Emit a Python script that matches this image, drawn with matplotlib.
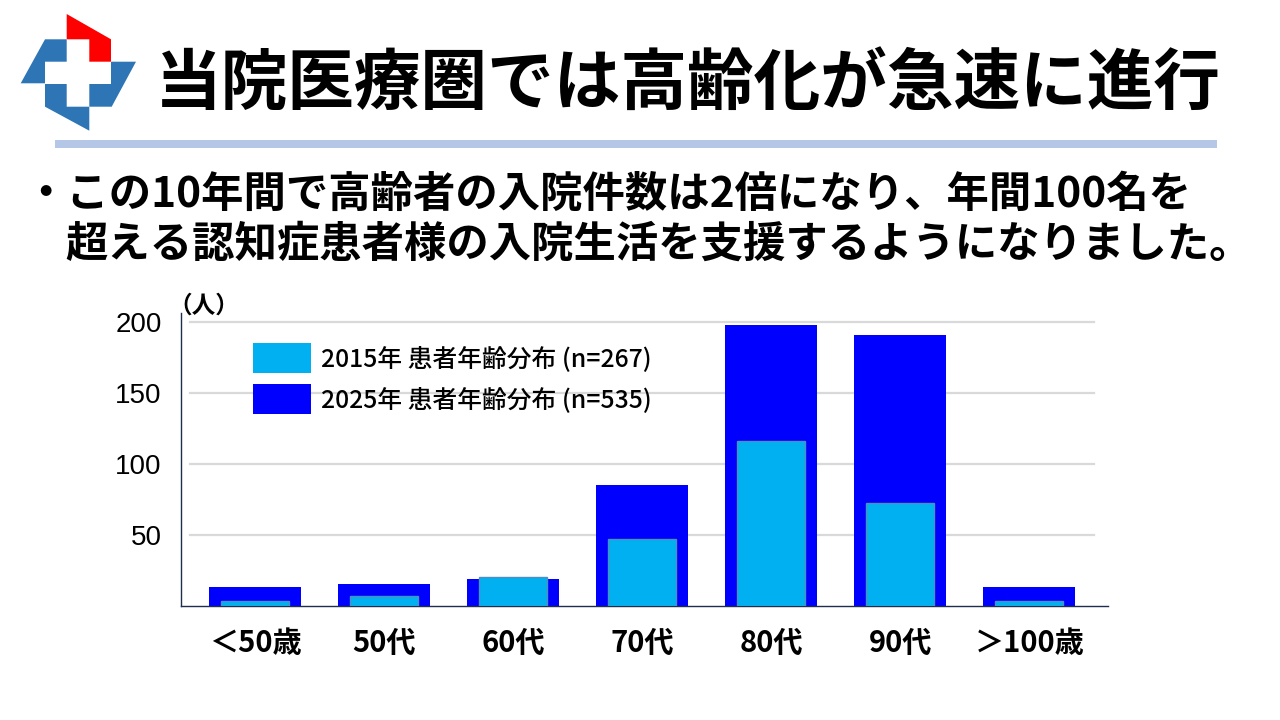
import matplotlib
matplotlib.use("Agg")
import matplotlib.pyplot as plt
from matplotlib.patches import Polygon, Rectangle, Patch

plt.rcParams['font.family'] = ['Noto Sans CJK JP', 'DejaVu Sans']

# ---- data ----
categories = ["＜50歳", "50代", "60代", "70代", "80代", "90代", "＞100歳"]
values_2025 = [13, 15, 19, 85, 198, 191, 13]
values_2015 = [3, 7, 20, 47, 116, 72, 3]
label_2015 = "2015年 患者年齢分布 (n=267)"
label_2025 = "2025年 患者年齢分布 (n=535)"
y_ticks = [50, 100, 150, 200]
title = "当院医療圏では高齢化が急速に進行"
bullet_line1 = "・この10年間で高齢者の入院件数は2倍になり、年間100名を"
bullet_line2 = "超える認知症患者様の入院生活を支援するようになりました。"
unit_label = "（人）"

W, H = 1280, 720
fig = plt.figure(figsize=(12.8, 7.2), dpi=100)
fig.patch.set_facecolor("white")

# ---- decoration layer in pixel coordinates ----
deco = fig.add_axes([0, 0, 1, 1], zorder=0)
deco.set_xlim(0, W)
deco.set_ylim(H, 0)
deco.axis("off")

blue_logo = "#2E75B6"
red_logo = "#FF0000"
red_poly = [(66.7, 14), (111, 39.3), (111, 61.7), (89.3, 61.7), (89.3, 39.3), (66.7, 39.3)]
left_poly = [(20.7, 83.3), (45, 39.3), (66.7, 39.3), (66.7, 61.7), (45, 61.7), (45, 83.3)]
bottom_poly = [(45, 84), (66.7, 84), (66.7, 106.7), (89.3, 106.7), (89.3, 130.7), (45, 106.7)]
right_poly = [(111, 61.7), (136, 61.7), (111.7, 106.7), (89.3, 106.7), (89.3, 84), (111, 84)]
deco.add_patch(Polygon(red_poly, closed=True, fc=red_logo, ec="none"))
for p in (left_poly, bottom_poly, right_poly):
    deco.add_patch(Polygon(p, closed=True, fc=blue_logo, ec="none"))

# separator line
deco.add_patch(Rectangle((55, 140), 1162, 8, fc="#B4C7E7", ec="none"))

# title
fig.text(155 / W, 1 - 84 / H, title, fontsize=48, fontweight="bold",
         ha="left", va="center", color="black")

# bullet text
fs_body = 30.5
fig.text(24 / W, 1 - 195 / H, bullet_line1, fontsize=fs_body, fontweight="bold",
         ha="left", va="center", color="black")
fig.text(65 / W, 1 - 245 / H, bullet_line2, fontsize=fs_body, fontweight="bold",
         ha="left", va="center", color="black")

# ---- chart ----
ax_left, ax_right = 181, 1108
ax_bottom, ax_top = 605.5, 313
ax = fig.add_axes([ax_left / W, 1 - ax_bottom / H, (ax_right - ax_left) / W,
                   (ax_bottom - ax_top) / H], zorder=1)
ax.set_facecolor("none")

x = list(range(len(categories)))
ax.bar(x, values_2025, width=0.71, color="#0000FF", zorder=2, label=label_2025)
ax.bar(x, values_2015, width=0.53, color="#00B0F0", edgecolor="#4F8FC0",
       linewidth=1.0, zorder=3, label=label_2015)

ax.set_xlim(-0.574, 6.61)
ax.set_ylim(0, 206.4)
ax.set_yticks(y_ticks)
ax.set_yticklabels([str(v) for v in y_ticks], fontsize=20, fontweight="medium",
                   family=["Liberation Sans", "DejaVu Sans"])
ax.set_xticks(x)
ax.set_xticklabels(categories, fontsize=21, fontweight="bold")
ax.tick_params(axis="y", length=0, pad=14)
ax.tick_params(axis="x", length=0, pad=16)
for v in y_ticks:
    ax.axhline(v, xmin=0.01, xmax=0.985, color="#D9D9D9", linewidth=1.6, zorder=0)
for s in ("top", "right"):
    ax.spines[s].set_visible(False)
for s in ("left", "bottom"):
    ax.spines[s].set_color("#1F2D4F")
    ax.spines[s].set_linewidth(1.0)

handles = [Patch(facecolor="#00B0F0", edgecolor="none"),
           Patch(facecolor="#0000FF", edgecolor="none")]
leg = ax.legend(handles, [label_2015, label_2025], loc="upper left",
                bbox_to_anchor=((253 - ax_left) / (ax_right - ax_left),
                                (ax_bottom - 343) / (ax_bottom - ax_top)),
                frameon=False, borderpad=0, borderaxespad=0,
                prop={"family": ["Noto Sans CJK JP", "DejaVu Sans"], "size": 17.8,
                      "weight": "medium"},
                handlelength=2.35, handleheight=1.52, handletextpad=0.4,
                labelspacing=0.42)

fig.text(168 / W, 1 - 306 / H, unit_label, fontsize=17, fontweight="bold",
         ha="left", va="center")

fig.savefig("out.png", dpi=100, facecolor="white")
